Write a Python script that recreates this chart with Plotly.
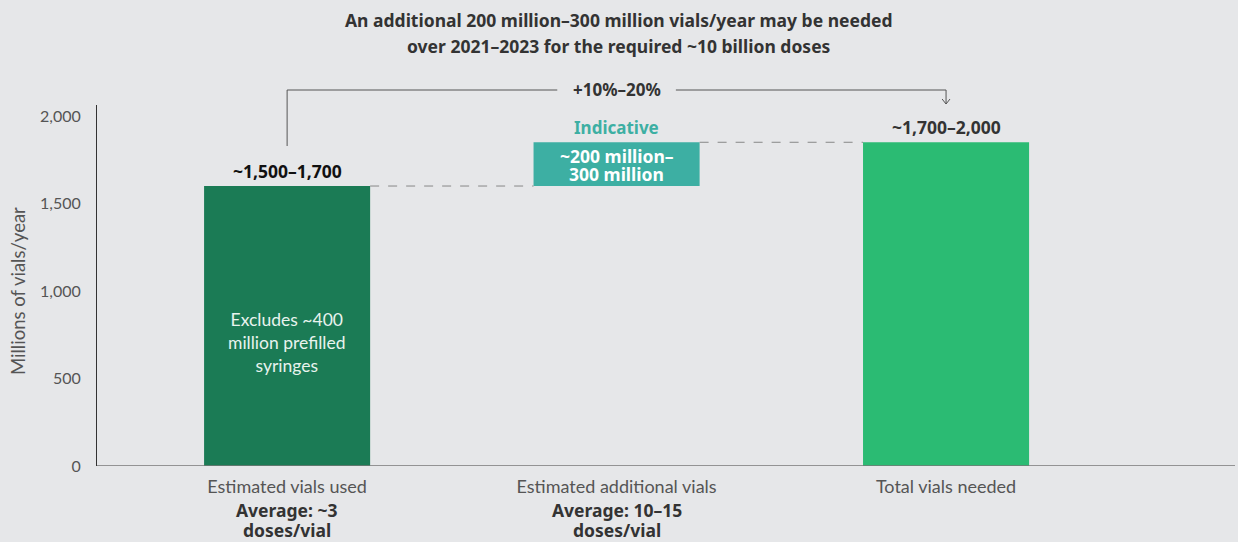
import plotly.graph_objects as go

categories = ["Estimated vials used", "Estimated additional vials", "Total vials needed"]
sublabels = [["Average: ~3", "doses/vial"], ["Average: 10–15", "doses/vial"], []]
bar_base = [0, 1600, 0]
bar_value = [1600, 250, 1850]
bar_colors = ["#1B7B55", "#3DAFA3", "#2BBB73"]
top_labels = ["~1,500–1,700", "Indicative", "~1,700–2,000"]
bar1_note = "Excludes ~400<br>million prefilled<br>syringes"
bar2_lines = ["~200 million–", "300 million"]
y_ticks = [0, 500, 1000, 1500, 2000]
y_ticktext = ["0", "500", "1,000", "1,500", "2,000"]
bracket_label = "+10%–20%"
title_lines = ["An additional 200 million–300 million vials/year may be needed",
               "over 2021–2023 for the required ~10 billion doses"]

BG = "#E6E7E9"
REG = "Lato"
BOLD = "Noto Sans"
x = list(range(len(categories)))
YMAX = 2063
LEFT_PX, RIGHT_PX = 97, 1235
TOP_PX, BOT_PX = 105, 466

def paper(py):
    return (BOT_PX - py) / (BOT_PX - TOP_PX)

def paperx(px):
    return (px - LEFT_PX) / (RIGHT_PX - LEFT_PX)

fig = go.Figure()
fig.add_trace(go.Bar(
    x=x, y=bar_value, base=bar_base, width=0.504,
    marker=dict(color=bar_colors, line=dict(width=0)),
    hoverinfo="skip", showlegend=False,
))

ann = []
tops = [b + v for b, v in zip(bar_base, bar_value)]
ann.append(dict(x=x[0], y=tops[0], text="<b>" + top_labels[0] + "</b>", showarrow=False,
                yanchor="bottom", yshift=1, font=dict(size=17.5, color="#111111", family=BOLD)))
ann.append(dict(x=x[1], y=tops[1], text="<b>" + top_labels[1] + "</b>", showarrow=False,
                yanchor="bottom", yshift=1, font=dict(size=17, color="#3DAFA3", family=BOLD)))
ann.append(dict(x=x[2], y=tops[2], text="<b>" + top_labels[2] + "</b>", showarrow=False,
                yanchor="bottom", yshift=1, font=dict(size=17.5, color="#333333", family=BOLD)))
ann.append(dict(x=x[0], y=703, text=bar1_note, showarrow=False, yanchor="middle",
                font=dict(size=17.5, color="#E8F3EE", family=REG)))
for py, line in zip([156, 174], bar2_lines):
    ann.append(dict(x=x[1], y=paper(py), yref="paper", text="<b>" + line + "</b>", showarrow=False,
                    yanchor="middle", font=dict(size=17.5, color="#FFFFFF", family=BOLD)))
for xi, lines in zip(x, sublabels):
    for py, line in zip([510, 530], lines):
        ann.append(dict(x=xi, y=paper(py), yref="paper", text="<b>" + line + "</b>", showarrow=False,
                        yanchor="middle", font=dict(size=17.5, color="#333333", family=BOLD)))
ann.append(dict(x=1, y=paper(90), yref="paper", yanchor="middle", text="<b>" + bracket_label + "</b>",
                showarrow=False, font=dict(size=17, color="#333333", family=BOLD)))
ann.append(dict(x=paperx(18), xref="paper", xanchor="center", y=paper(291), yref="paper", yanchor="middle",
                text="Millions of vials/year", showarrow=False, textangle=-90,
                font=dict(size=18.5, color="#555555", family=REG)))
for py, line in zip([20, 46], title_lines):
    ann.append(dict(x=paperx(619), xref="paper", xanchor="center", y=paper(py), yref="paper",
                    yanchor="middle", text="<b>" + line + "</b>",
                    showarrow=False, font=dict(size=17.5, color="#333333", family=BOLD)))

shapes = []
hw = 0.504 / 2
shapes.append(dict(type="line", x0=x[0] + hw, x1=x[1] - hw, y0=tops[0], y1=tops[0],
                   line=dict(color="#888888", width=1, dash="dash")))
shapes.append(dict(type="line", x0=x[1] + hw, x1=x[2] - hw, y0=tops[1], y1=tops[1],
                   line=dict(color="#888888", width=1, dash="dash")))
gap = 0.18
yb = paper(90)
lc = dict(color="#555555", width=1)
shapes.append(dict(type="line", xref="x", yref="paper", x0=x[0], x1=x[0], y0=paper(146), y1=yb, line=lc))
shapes.append(dict(type="line", xref="x", yref="paper", x0=x[0], x1=x[1] - gap, y0=yb, y1=yb, line=lc))
shapes.append(dict(type="line", xref="x", yref="paper", x0=x[1] + gap, x1=x[2], y0=yb, y1=yb, line=lc))
shapes.append(dict(type="line", xref="x", yref="paper", x0=x[2], x1=x[2], y0=yb, y1=paper(104), line=lc))
shapes.append(dict(type="line", xref="x", yref="paper", x0=x[2] - 0.012, x1=x[2], y0=paper(99), y1=paper(104), line=lc))
shapes.append(dict(type="line", xref="x", yref="paper", x0=x[2] + 0.012, x1=x[2], y0=paper(99), y1=paper(104), line=lc))
shapes.append(dict(type="line", xref="paper", yref="y", x0=0, x1=1, y0=0, y1=0,
                   line=dict(color="#777777", width=1.5)))

fig.update_layout(
    width=1238, height=542,
    margin=dict(l=LEFT_PX, r=1238 - RIGHT_PX, t=TOP_PX, b=542 - BOT_PX),
    paper_bgcolor=BG, plot_bgcolor=BG,
    font=dict(family=REG, color="#555555"),
    xaxis=dict(range=[-0.577, 2.877], tickvals=x, ticktext=categories, showgrid=False,
               zeroline=False, showline=False, ticks="", ticklabelstandoff=8,
               tickfont=dict(size=18, color="#555555", family=REG)),
    yaxis=dict(range=[0, YMAX], tickvals=y_ticks, ticktext=y_ticktext, showgrid=False,
               zeroline=False, showline=True, linecolor="#333333", linewidth=1, ticks="",
               tickfont=dict(size=16, color="#555555", family=REG), ticklabelstandoff=12),
    annotations=ann, shapes=shapes,
)

fig.write_html("out.html", config={"displayModeBar": False},
               post_script="document.body.style.margin='0';document.body.style.overflow='hidden';")
